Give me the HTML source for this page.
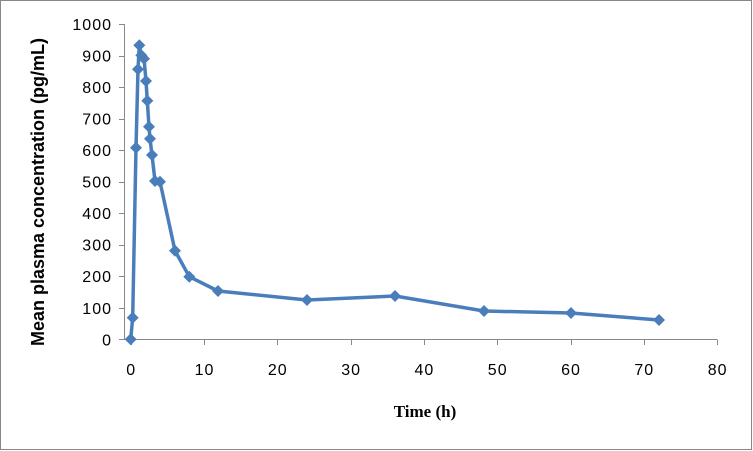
<!DOCTYPE html>
<html><head><style>body{margin:0;background:#fff}</style></head><body>
<svg width="753" height="451" xmlns="http://www.w3.org/2000/svg" style="display:block">
<rect x="0.5" y="0.5" width="751" height="449" fill="#fff" stroke="#888"/>
<g stroke="#888" stroke-width="1">
<line x1="124.5" y1="24" x2="124.5" y2="339.5"/>
<line x1="124" y1="339.5" x2="717" y2="339.5"/>
<g id="yt"></g>
</g>
<g font-family="Liberation Sans, sans-serif" font-size="16" letter-spacing="1" fill="#000">
<g text-anchor="end" id="yl"></g>
<g text-anchor="middle" id="xl"></g>
</g>
<text x="44" y="192" transform="rotate(-90 44 192)" text-anchor="middle" font-family="Liberation Sans, sans-serif" font-weight="bold" font-size="18">Mean plasma concentration (pg/mL)</text>
<text x="425" y="417" text-anchor="middle" font-family="Liberation Serif, serif" font-weight="bold" font-size="17">Time (h)</text>
<polyline id="ln" fill="none" stroke="#4a7ebb" stroke-width="3.5" stroke-linejoin="round"/>
<g id="mk" fill="#4a7ebb"></g>
<script>
var ns="http://www.w3.org/2000/svg";
function el(p,t,a,txt){var e=document.createElementNS(ns,t);for(var k in a)e.setAttribute(k,a[k]);if(txt!=null)e.textContent=txt;document.getElementById(p).appendChild(e);}
for(var i=0;i<=10;i++){var y=339.3-i*31.53;el("yt","line",{x1:119,x2:124.5,y1:Math.round(y)+.5,y2:Math.round(y)+.5});el("yl","text",{x:112,y:y+6},i*100);}
for(var i=0;i<=8;i++){var x=130.7+i*73.3;el("yt","line",{x1:Math.round(x)+.5,x2:Math.round(x)+.5,y1:339.5,y2:345});el("xl","text",{x:x+0.5,y:375},i*10);}
var p=[[130.7,339.3],[132.7,317.7],[136,147.7],[138,69.3],[139.3,45.3],[141.3,55.3],[144,58.7],[146,81],[147.3,100.7],[149,126.7],[150,138.7],[152,155],[155,181],[160,181.7],[175,250.7],[189.3,276.7],[218,291],[307,300],[395,296],[484,311],[571,313],[659,320]];
document.getElementById("ln").setAttribute("points",p.map(function(q){return q.join(",")}).join(" "));
p.forEach(function(q){var x=q[0],y=q[1],r=6;el("mk","polygon",{points:(x)+","+(y-r)+" "+(x+r)+","+y+" "+x+","+(y+r)+" "+(x-r)+","+y});});
</script>
</svg>
</body></html>
